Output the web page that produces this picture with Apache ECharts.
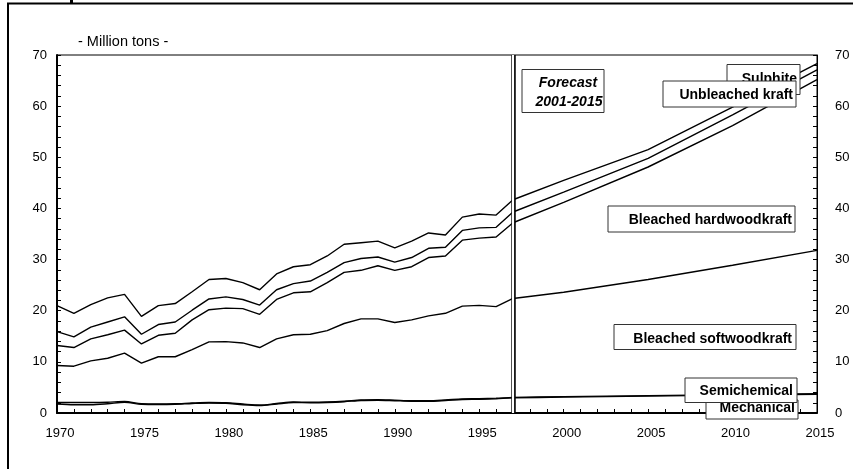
<!DOCTYPE html>
<html>
<head>
<meta charset="utf-8">
<script src="https://cdn.jsdelivr.net/npm/echarts@6/dist/echarts.min.js"></script>
<style>
  html, body { margin: 0; padding: 0; background: #fff; }
  #chart { width: 853px; height: 469px; }
</style>
</head>
<body>
<div id="chart"></div>
<script>
// years: history 1970-1997, then the forecast points
const years = [1970, 1971, 1972, 1973, 1974, 1975, 1976, 1977, 1978, 1979,
  1980, 1981, 1982, 1983, 1984, 1985, 1986, 1987, 1988, 1989,
  1990, 1991, 1992, 1993, 1994, 1995, 1996, 1997, 2000, 2005, 2010, 2015];

// cumulative totals (million tons), one line per pulp grade
const sulphite = [21.0, 19.5, 21.2, 22.5, 23.2, 18.9, 21.0, 21.4, 23.7, 26.1,
  26.3, 25.5, 24.1, 27.2, 28.6, 29.0, 30.7, 33.0, 33.3, 33.6,
  32.3, 33.6, 35.2, 34.8, 38.3, 38.9, 38.7, 41.7, 45.5, 51.5, 59.8, 68.3];
const unbleachedKraft = [15.9, 14.9, 16.8, 17.8, 18.8, 15.4, 17.3, 17.8, 20.1, 22.3,
  22.7, 22.2, 21.1, 24.1, 25.3, 25.8, 27.5, 29.4, 30.2, 30.5,
  29.5, 30.4, 32.2, 32.4, 35.7, 36.2, 36.3, 39.3, 43.2, 49.8, 58.3, 67.1];
const bleachedHardwood = [13.2, 12.8, 14.5, 15.3, 16.2, 13.5, 15.2, 15.6, 18.2, 20.2,
  20.5, 20.4, 19.3, 22.2, 23.5, 23.7, 25.5, 27.5, 27.9, 28.8,
  27.9, 28.6, 30.4, 30.7, 33.8, 34.2, 34.4, 37.2, 41.2, 48.1, 56.2, 65.2];
const bleachedSoftwood = [9.3, 9.15, 10.2, 10.7, 11.7, 9.75, 11.0, 11.0, 12.4, 13.9,
  13.95, 13.7, 12.8, 14.5, 15.3, 15.4, 16.1, 17.5, 18.4, 18.4,
  17.7, 18.2, 19.0, 19.5, 20.9, 21.05, 20.8, 22.4, 23.6, 26.1, 28.9, 31.8];
const semichemical = [2.05, 2.05, 2.05, 2.1, 2.25, 1.8, 1.75, 1.8, 1.95, 2.05,
  2.0, 1.75, 1.55, 1.85, 2.15, 2.1, 2.15, 2.3, 2.55, 2.6,
  2.5, 2.4, 2.4, 2.55, 2.75, 2.8, 2.9, 3.05, 3.2, 3.4, 3.6, 3.75];
const mechanical = [1.75, 1.6, 1.6, 1.8, 2.1, 1.7, 1.65, 1.7, 1.85, 1.95,
  1.9, 1.6, 1.45, 1.75, 2.05, 2.0, 2.05, 2.2, 2.45, 2.5,
  2.4, 2.3, 2.3, 2.45, 2.65, 2.7, 2.8, 2.95, 3.1, 3.3, 3.5, 3.65];

const forecastStart = 1997;
const yTicks = [0, 10, 20, 30, 40, 50, 60, 70];
const xTicks = [1970, 1975, 1980, 1985, 1990, 1995, 2000, 2005, 2010, 2015];

const FONT = 'Liberation Sans, Arial, sans-serif';

function pairs(vals) {
  return years.map((y, i) => [y, vals[i]]);
}

function lineSeries(name, vals, smooth) {
  return {
    name: name,
    type: 'line',
    data: pairs(vals),
    symbol: 'none',
    smooth: smooth ? 0.3 : false,
    lineStyle: { color: '#000', width: 1.4 },
    silent: true,
    z: 3
  };
}

// label box: rect + right aligned bold text, later boxes sit on top
function labelBox(z, x, y, w, h, text, textX, textY) {
  return [
    {
      type: 'rect',
      shape: { x: x, y: y, width: w, height: h },
      style: { fill: '#fff', stroke: '#333', lineWidth: 1 },
      z: z
    },
    {
      type: 'text',
      x: textX, y: textY,
      style: {
        text: text,
        fill: '#000',
        font: 'bold 14px ' + FONT,
        align: 'right',
        verticalAlign: 'middle'
      },
      z: z + 1
    }
  ];
}

const chart = echarts.init(document.getElementById('chart'));

const yAxisBase = {
  type: 'value',
  min: 0,
  max: 70,
  interval: 10,
  splitLine: { show: false },
  axisTick: { show: true, inside: true, length: 4, lineStyle: { color: '#000' } },
  minorTick: { show: true, splitNumber: 5, length: 4, lineStyle: { color: '#000' } },
  axisLabel: {
    color: '#000', fontSize: 13, fontFamily: FONT,
    formatter: v => (yTicks.indexOf(v) >= 0 ? String(v) : '')
  }
};

const forecastLine = {
  name: 'forecast',
  type: 'line',
  data: [],
  silent: true,
  markLine: {
    silent: true,
    symbol: 'none',
    label: { show: false },
    animation: false,
    data: [
      { xAxis: forecastStart, lineStyle: { color: '#000', width: 4.5, type: 'solid' } },
      { xAxis: forecastStart, lineStyle: { color: '#fff', width: 2.2, type: 'solid' } }
    ]
  },
  z: 5
};

let graphics = [
  // outer frame of the chart
  {
    type: 'rect',
    shape: { x: 8, y: 3.5, width: 900, height: 500 },
    style: { fill: 'none', stroke: '#000', lineWidth: 2 },
    z: 1
  },
  // bit of cut off title above
  { type: 'rect', shape: { x: 70, y: 0, width: 3, height: 3 }, style: { fill: '#000' }, z: 1 },
  {
    type: 'text',
    x: 78, y: 42,
    style: { text: '- Million tons -', fill: '#000', font: '14.5px ' + FONT, verticalAlign: 'middle' },
    z: 50
  },
  // forecast box
  {
    type: 'rect',
    shape: { x: 522, y: 69.5, width: 82, height: 43 },
    style: { fill: '#fff', stroke: '#333', lineWidth: 1 },
    z: 100
  },
  {
    type: 'text', x: 568, y: 83.5,
    style: { text: 'Forecast', fill: '#000', font: 'italic bold 14px ' + FONT, align: 'center', verticalAlign: 'middle' },
    z: 101
  },
  {
    type: 'text', x: 569, y: 102.5,
    style: { text: '2001-2015', fill: '#000', font: 'italic bold 14px ' + FONT, align: 'center', verticalAlign: 'middle' },
    z: 101
  }
];

graphics = graphics.concat(
  labelBox(110, 727, 64.5, 73, 30, 'Sulphite', 797, 79.5),
  labelBox(120, 663, 81, 133, 26, 'Unbleached kraft', 793, 95),
  labelBox(130, 608, 206, 187, 26, 'Bleached hardwoodkraft', 792, 220.5),
  labelBox(140, 614, 324.5, 182, 25, 'Bleached softwoodkraft', 792, 339),
  labelBox(150, 706, 400, 92, 19, 'Mechanical', 795, 408.5),
  labelBox(160, 685, 378, 112, 24.5, 'Semichemical', 793, 391)
);

const option = {
  animation: false,
  backgroundColor: '#fff',
  grid: {
    left: 57,
    top: 55,
    right: 36,
    bottom: 56,
    show: true,
    borderColor: '#000',
    borderWidth: 1,
    containLabel: false,
    outerBoundsMode: 'none'
  },
  xAxis: {
    type: 'value',
    min: 1970,
    max: 2015,
    interval: 5,
    splitLine: { show: false },
    axisLine: { show: true, onZero: false, lineStyle: { color: '#000', width: 2 } },
    axisTick: { show: true, inside: true, length: 4, lineStyle: { color: '#000' } },
    minorTick: { show: true, splitNumber: 5, length: 4, lineStyle: { color: '#000' } },
    axisLabel: {
      color: '#000', fontSize: 13, fontFamily: FONT, margin: 14,
      padding: [0, 0, 0, 6],
      formatter: v => (xTicks.indexOf(v) >= 0 ? String(v) : '')
    }
  },
  yAxis: [
    Object.assign({}, yAxisBase, {
      position: 'left',
      axisLine: { show: true, onZero: false, lineStyle: { color: '#000', width: 2 } },
      axisLabel: Object.assign({}, yAxisBase.axisLabel, { margin: 10 })
    }),
    Object.assign({}, yAxisBase, {
      position: 'right',
      axisLine: { show: true, onZero: false, lineStyle: { color: '#000', width: 1 } },
      axisLabel: Object.assign({}, yAxisBase.axisLabel, { margin: 18 })
    })
  ],
  series: [
    lineSeries('Sulphite', sulphite, false),
    lineSeries('Unbleached kraft', unbleachedKraft, false),
    lineSeries('Bleached hardwoodkraft', bleachedHardwood, false),
    lineSeries('Bleached softwoodkraft', bleachedSoftwood, false),
    lineSeries('Semichemical', semichemical, true),
    lineSeries('Mechanical', mechanical, true),
    forecastLine
  ],
  graphic: graphics
};

chart.setOption(option);
</script>
</body>
</html>
